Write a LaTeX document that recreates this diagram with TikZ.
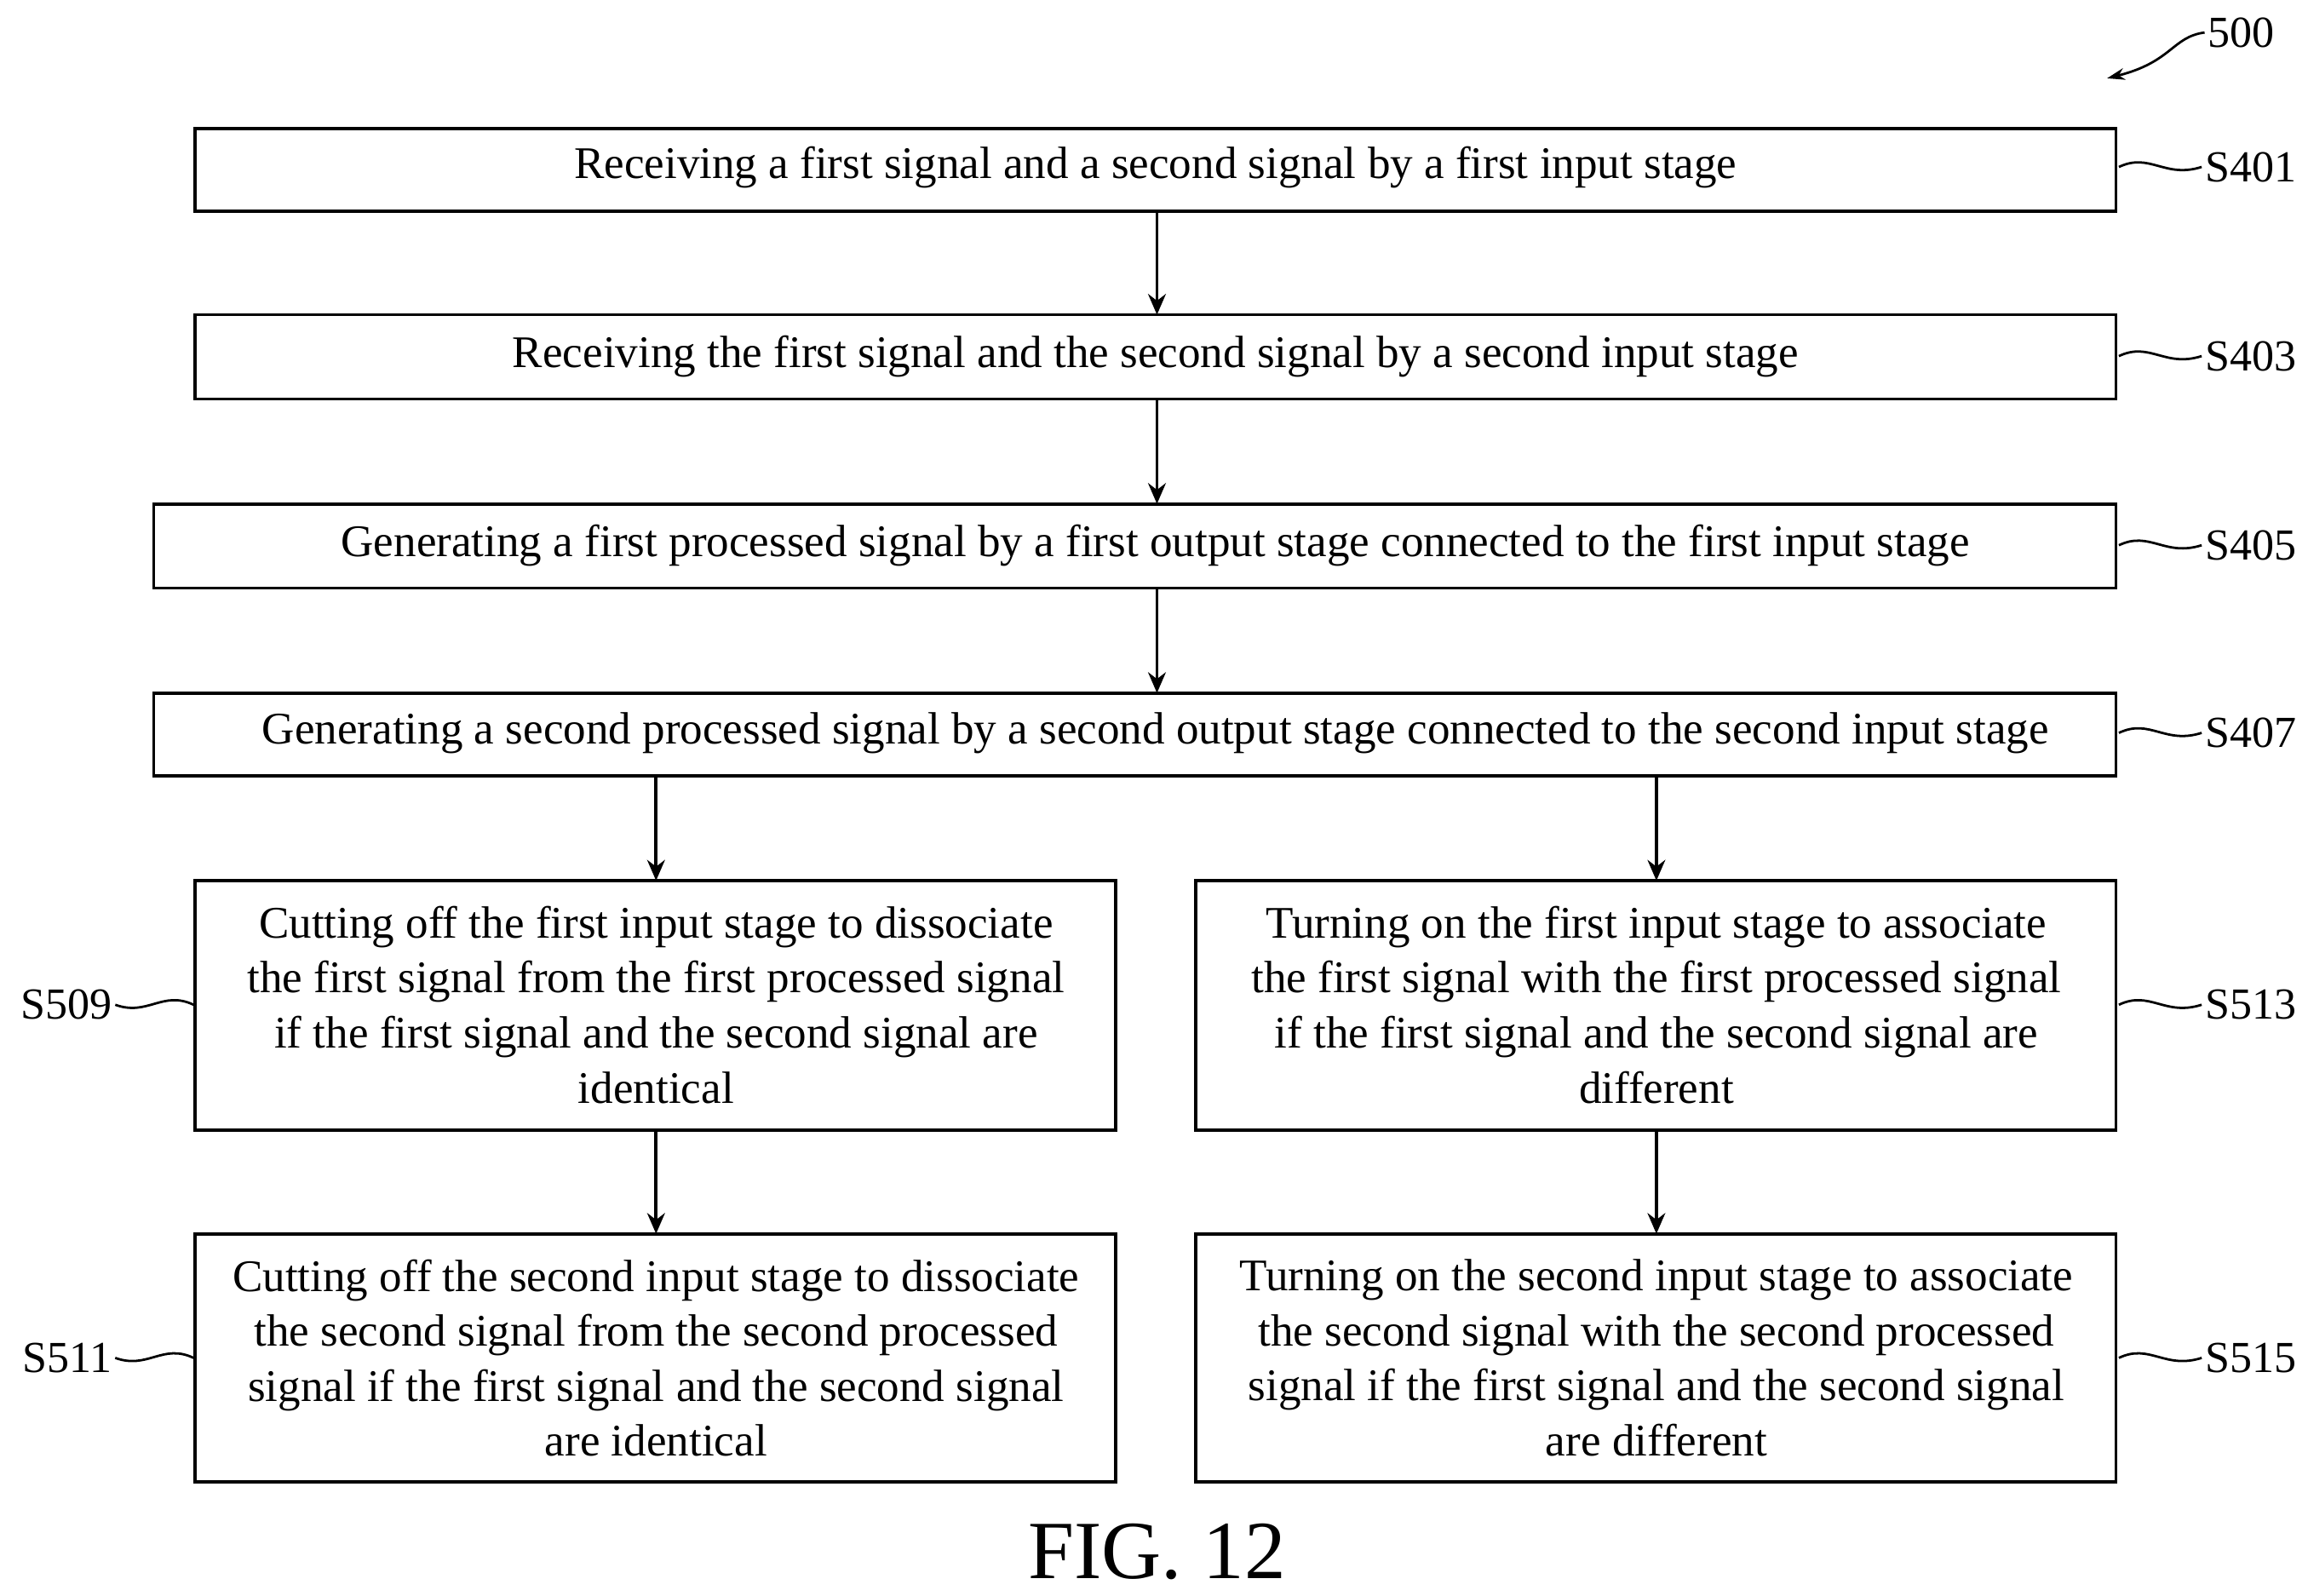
\documentclass[tikz,border=0pt]{standalone}
\usepackage{fontspec}
\setmainfont{Liberation Serif}
\usetikzlibrary{arrows.meta}
\begin{document}
\begin{tikzpicture}[x=0.5pt,y=-0.5pt,
  txt/.style={font=\fontsize{15.3}{18.6}\selectfont,align=center},
  arr/.style={line width=1.1pt,-{Stealth[length=7pt,width=6pt]}},
  lab/.style={font=\fontsize{15}{18}\selectfont},
  sq/.style={line width=0.8pt}]
\useasboundingbox (0,0) rectangle (1562,1080);
% main boxes
\draw[line width=1.1pt] (132,87) rectangle (1432,143);
\node[txt] (s401) at (782,113) {Receiving a first signal and a second signal by a first input stage};
\draw[line width=1.1pt] (132,213) rectangle (1432,270);
\node[txt] (s403) at (782,241) {Receiving the first signal and the second signal by a second input stage};
\draw[line width=1.1pt] (104,341) rectangle (1432,398);
\node[txt] (s405) at (782,369) {Generating a first processed signal by a first output stage connected to the first input stage};
\draw[line width=1.1pt] (104,469) rectangle (1432,525);
\node[txt] (s407) at (782,496) {Generating a second processed signal by a second output stage connected to the second input stage};
\coordinate (a1) at (783,143); \coordinate (b1) at (783,213);
\coordinate (a2) at (783,270); \coordinate (b2) at (783,341);
\coordinate (a3) at (783,398); \coordinate (b3) at (783,469);
\draw[arr] (a1)--(b1); \draw[arr] (a2)--(b2); \draw[arr] (a3)--(b3);
% lower boxes
\draw[line width=1.1pt] (132,596) rectangle (755,765);
\node[txt] (s509) at (444,680) {Cutting off the first input stage to dissociate\\the first signal from the first processed signal\\if the first signal and the second signal are\\identical};
\draw[line width=1.1pt] (809,596) rectangle (1432,765);
\node[txt] (s513) at (1121,680) {Turning on the first input stage to associate\\the first signal with the first processed signal\\if the first signal and the second signal are\\different};
\draw[line width=1.1pt] (132,835) rectangle (755,1003);
\node[txt] (s511) at (444,919) {Cutting off the second input stage to dissociate\\the second signal from the second processed\\signal if the first signal and the second signal\\are identical};
\draw[line width=1.1pt] (809,835) rectangle (1432,1003);
\node[txt] (s515) at (1121,919) {Turning on the second input stage to associate\\the second signal with the second processed\\signal if the first signal and the second signal\\are different};
\coordinate (c1) at (444,525); \coordinate (d1) at (444,596);
\coordinate (c2) at (1121,525); \coordinate (d2) at (1121,596);
\coordinate (c3) at (444,765); \coordinate (d3) at (444,835);
\coordinate (c4) at (1121,765); \coordinate (d4) at (1121,835);
\draw[arr] (c1)--(d1); \draw[arr] (c2)--(d2); \draw[arr] (c3)--(d3); \draw[arr] (c4)--(d4);
% step labels
\foreach \n/\y in {S401/113,S403/241,S405/369,S407/496,S513/680,S515/919}{
  \node[lab,anchor=west,inner sep=1pt] (l\n) at (1490,\y) {\n};
  \draw[sq] (1434,\y) .. controls (1455,\y-10) and (1465,\y+8) .. (l\n.west);
}
\foreach \n/\y in {S509/680,S511/919}{
  \node[lab,anchor=east,inner sep=1pt] (l\n) at (78,\y) {\n};
  \draw[sq] (l\n.east) .. controls (100,\y+8) and (110,\y-10) .. (131,\y);
}
\node[lab,anchor=west,inner sep=1pt] (l500) at (1492,22) {500};
\coordinate (t500) at (1426,53);
\draw[sq,-{Stealth[length=6pt,width=4pt]}] (l500.west) .. controls (1470,25) and (1470,42) .. (t500);
\node[font=\fontsize{28}{30}\selectfont] (fig) at (783,1050) {FIG. 12};
\end{tikzpicture}
\end{document}
